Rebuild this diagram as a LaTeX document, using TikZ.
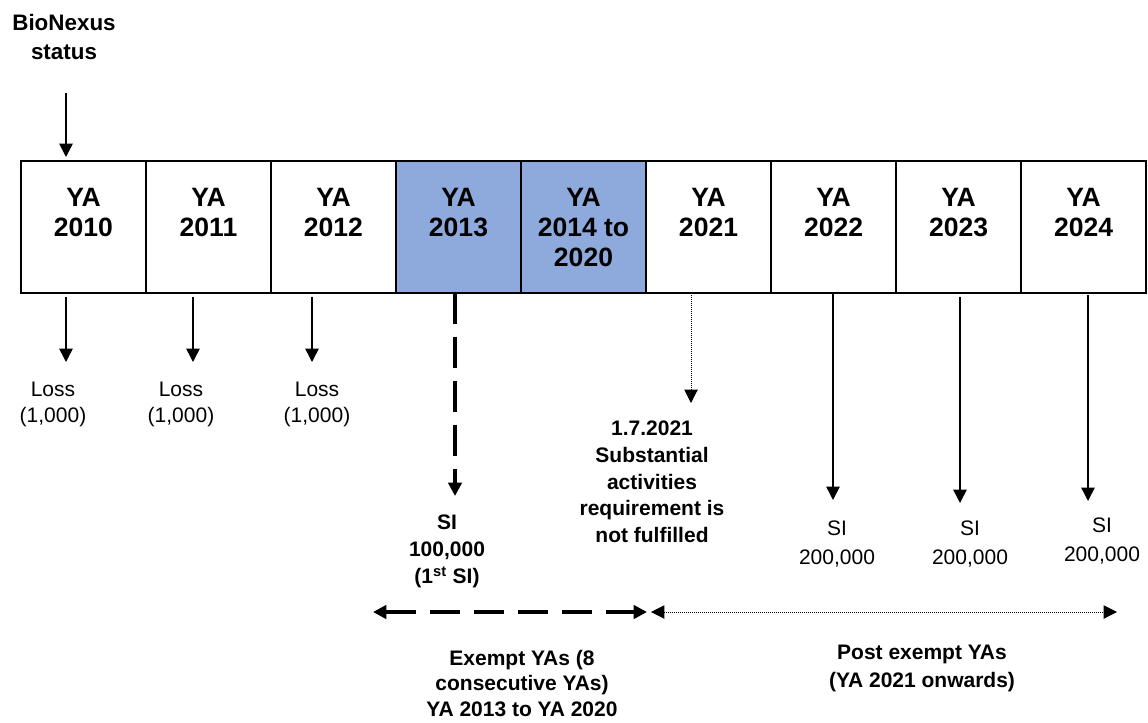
\documentclass[tikz,border=0pt]{standalone}
\usepackage{fontspec}
\setmainfont{Liberation Sans}
\usetikzlibrary{arrows.meta,positioning}
\definecolor{exemptblue}{RGB}{142,169,219}

\begin{document}
\begin{tikzpicture}[x=0.75pt, y=-0.75pt,
	yabox/.style={draw, line width=1.5pt, minimum width=93.75pt, minimum height=99pt, inner sep=0pt, outer sep=0pt},
	yatext/.style={align=center, inner sep=0pt, font=\fontsize{19.9}{22.5}\selectfont\bfseries},
	note/.style={align=center, inner sep=0pt, anchor=north, font=\fontsize{15.75}{19.5}\selectfont},
	boldnote/.style={note, font=\fontsize{15.75}{20}\selectfont\bfseries},
	flow/.style={-{Triangle[length=10pt, width=10pt]}, line width=1.1pt},
	both/.style={{Triangle[length=10pt, width=10pt]}-{Triangle[length=10pt, width=10pt]}},
	bigdash/.style={line width=3pt, dash pattern=on 23pt off 10pt},
	fine/.style={line width=0.75pt, dash pattern=on 0.75pt off 0.75pt}]
		\useasboundingbox (0,0) rectangle (1148,722);
		
		\node[boldnote, font=\fontsize{16.8}{21.75}\selectfont\bfseries] (bio) at (64,14) {BioNexus\\status};
		
		% row of years of assessment
		\node[yabox] (b2010) at (83.5,227) {};
		\node[yabox, right=0pt of b2010] (b2011) {};
		\node[yabox, right=0pt of b2011] (b2012) {};
		\node[yabox, fill=exemptblue, right=0pt of b2012] (b2013) {};
		\node[yabox, fill=exemptblue, right=0pt of b2013] (b2014) {};
		\node[yabox, right=0pt of b2014] (b2021) {};
		\node[yabox, right=0pt of b2021] (b2022) {};
		\node[yabox, right=0pt of b2022] (b2023) {};
		\node[yabox, right=0pt of b2023] (b2024) {};
		
		\node[yatext, below=20.25pt of b2010.north] (t2010) {YA\\2010};
		\node[yatext, below=20.25pt of b2011.north] (t2011) {YA\\2011};
		\node[yatext, below=20.25pt of b2012.north] (t2012) {YA\\2012};
		\node[yatext, below=20.25pt of b2013.north] (t2013) {YA\\2013};
		\node[yatext, below=20.25pt of b2014.north] (t2014) {YA\\2014 to\\2020};
		\node[yatext, below=20.25pt of b2021.north] (t2021) {YA\\2021};
		\node[yatext, below=20.25pt of b2022.north] (t2022) {YA\\2022};
		\node[yatext, below=20.25pt of b2023.north] (t2023) {YA\\2023};
		\node[yatext, below=20.25pt of b2024.north] (t2024) {YA\\2024};
		
		\coordinate (bioarr) at (66,93);
		\draw[flow, shorten >=3pt] (bioarr) -- (b2010.north -| bioarr);
		
		% losses
		\coordinate (a2010) at (66,362);
		\coordinate (a2011) at (193,362);
		\coordinate (a2012) at (312,362);
		\draw[flow, shorten <=3pt] (b2010.south -| a2010) -- (a2010);
		\draw[flow, shorten <=3pt] (b2011.south -| a2011) -- (a2011);
		\draw[flow, shorten <=3pt] (b2012.south -| a2012) -- (a2012);
		\node[note] (loss2010) at (53,382) {Loss\\(1,000)};
		\node[note] (loss2011) at (181,382) {Loss\\(1,000)};
		\node[note] (loss2012) at (317,382) {Loss\\(1,000)};
		
		% first SI
		\coordinate (a2013) at (455,496);
		\draw[flow, bigdash] (b2013.south -| a2013) -- (a2013);
		\node[boldnote] (si2013) at (447,515) {SI\\100,000\\(1\textsuperscript{st} SI)};
		
		\coordinate (a2021) at (691,403);
		\draw[flow, fine] (b2021.south -| a2021) -- (a2021);
		\node[boldnote] (sub) at (652,421) {1.7.2021\\Substantial\\activities\\requirement is\\not fulfilled};
		
		% post exempt SI
		\coordinate (a2022) at (833,500);
		\coordinate (a2023) at (960,503);
		\coordinate (a2024) at (1088,501);
		\draw[flow] (b2022.south -| a2022) -- (a2022);
		\draw[flow, shorten <=3pt] (b2023.south -| a2023) -- (a2023);
		\draw[flow, shorten <=1.5pt] (b2024.south -| a2024) -- (a2024);
		\node[note, font=\fontsize{15.75}{21.5}\selectfont] (si2022) at (837,521) {SI\\200,000};
		\node[note, font=\fontsize{15.75}{21.5}\selectfont] (si2023) at (970,521) {SI\\200,000};
		\node[note, font=\fontsize{15.75}{21.5}\selectfont] (si2024) at (1102,518) {SI\\200,000};
		
		% periods
		\coordinate (ex1) at (373,612);
		\coordinate (ex2) at (647,612);
		\coordinate (po1) at (651,612);
		\coordinate (po2) at (1117,612);
		\draw[both, bigdash] (ex1) -- (ex2);
		\draw[both, fine] (po1) -- (po2);
		
		\node[boldnote, font=\fontsize{15.75}{19}\selectfont\bfseries] (exempt) at (522,650) {Exempt YAs (8\\consecutive YAs)\\YA 2013 to YA 2020};
		\node[boldnote, font=\fontsize{15.75}{21}\selectfont\bfseries] (post) at (922,645) {Post exempt YAs\\(YA 2021 onwards)};
		
\end{tikzpicture}
\end{document}
